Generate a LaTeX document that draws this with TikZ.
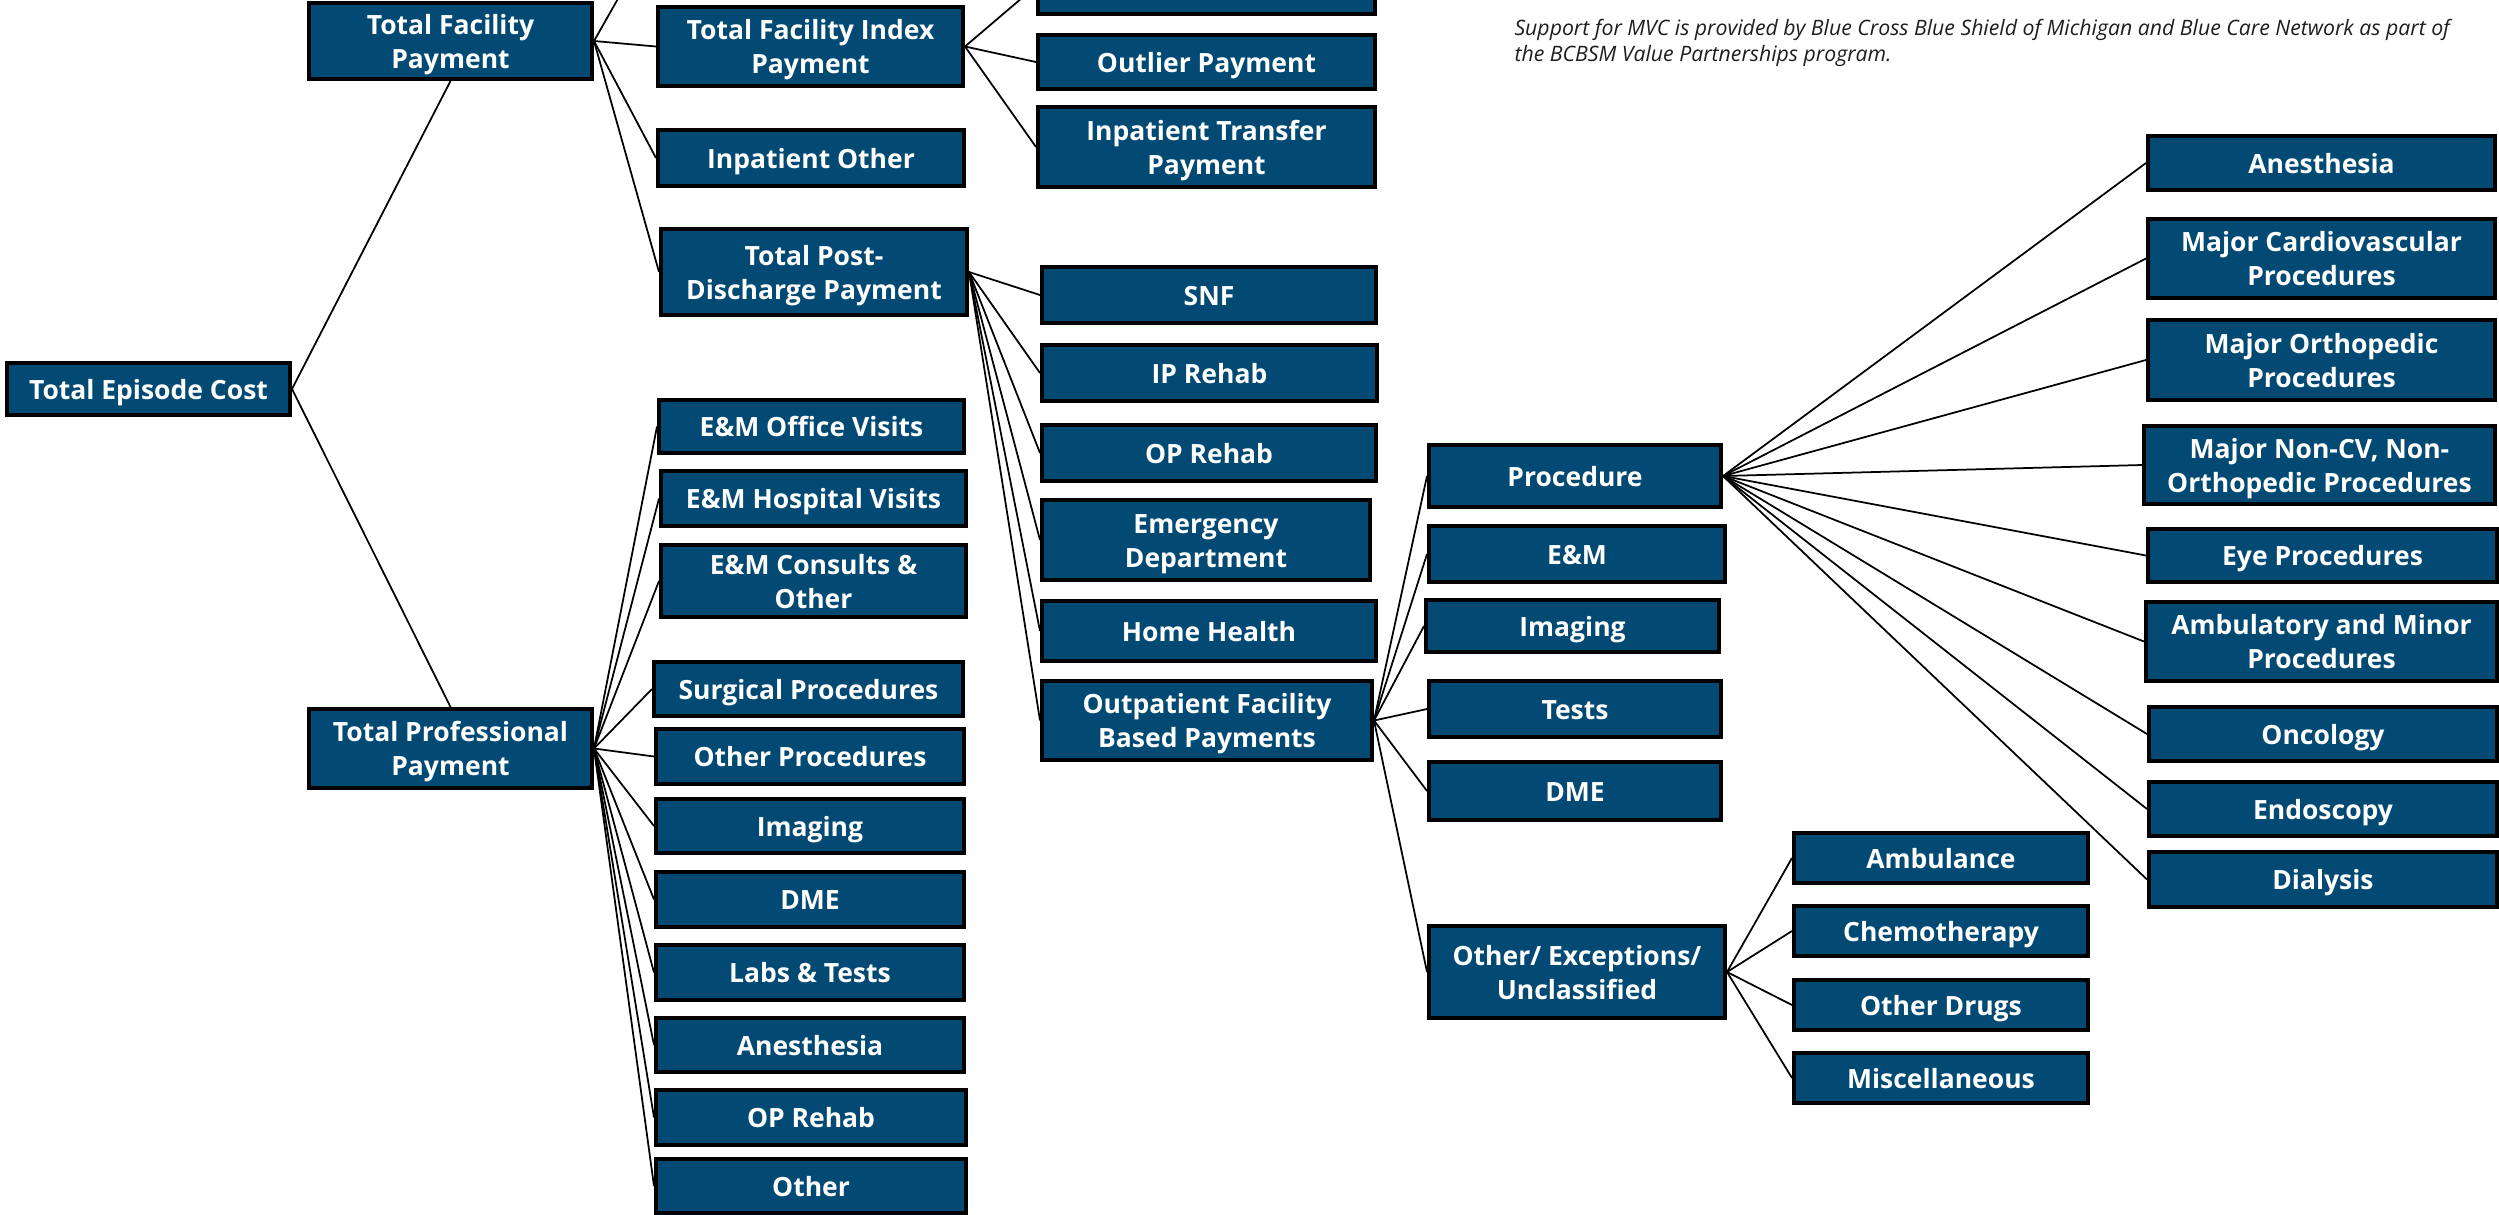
\documentclass[tikz,border=0pt]{standalone}
\usepackage{fontspec}
\setmainfont{Open Sans}
\definecolor{boxblue}{RGB}{2,74,115}
\definecolor{notegray}{RGB}{30,30,30}
\newcommand\sttop{\rule{0pt}{1.069em}}
\newcommand\stbot{\rule[-0.293em]{0pt}{0.293em}}
\tikzset{
  bxs/.style={draw=black, line width=1.6pt, fill=boxblue, text=white,
    font=\fontsize{10.6}{13.6}\selectfont\bfseries, align=center, inner sep=0pt, rectangle},
  conn/.style={draw=black, line width=0.7pt},
  notestyle/.style={font=\fontsize{8.5}{10.4}\selectfont\itshape, text=notegray, align=left, inner sep=0pt, anchor=north west}
}
\newcommand\nbox[6]{\node[bxs, minimum width={(#4-#2-4)*0.4pt}, minimum height={(#5-#3-4)*0.4pt}] (#1) at ({(#2+#4)/2},{(#3+#5)/2}) {\sttop #6\stbot};}
\begin{document}
\begin{tikzpicture}[x=0.4pt,y=-0.4pt]
\useasboundingbox (0,0) rectangle (2499,1214);
\clip (0,0) rectangle (2499,1214);
\fill[white] (0,0) rectangle (2499,1214);
% nodes
\nbox{tec}{5}{361}{292}{417}{Total Episode Cost}
\nbox{tfp}{307}{1}{594}{81}{Total Facility\\Payment}
\nbox{tpp}{307}{707}{594}{790}{Total Professional\\Payment}
\nbox{topbox}{1036}{-44}{1377}{16}{}
\nbox{tfip}{656}{5}{965}{88}{Total Facility Index\\Payment}
\nbox{outl}{1036}{33}{1377}{91}{Outlier Payment}
\nbox{ipt}{1036}{105}{1377}{189}{Inpatient Transfer\\Payment}
\nbox{ipo}{656}{128}{966}{188}{Inpatient Other}
\nbox{tpd}{659}{227}{969}{317}{Total Post-\\Discharge Payment}
\nbox{snf}{1040}{265}{1378}{325}{SNF}
\nbox{iprh}{1040}{343}{1379}{403}{IP Rehab}
\nbox{oprh}{1040}{423}{1378}{483}{OP Rehab}
\nbox{ed}{1040}{498}{1372}{582}{Emergency\\Department}
\nbox{hh}{1040}{599}{1378}{663}{Home Health}
\nbox{ofbp}{1040}{679}{1374}{762}{Outpatient Facility\\Based Payments}
\nbox{proc}{1427}{443}{1723}{509}{Procedure}
\nbox{em}{1427}{524}{1727}{584}{E\&M}
\nbox{imgb}{1424}{598}{1721}{654}{Imaging}
\nbox{tests}{1427}{679}{1723}{739}{Tests}
\nbox{dmeb}{1427}{760}{1723}{822}{DME}
\nbox{oeu}{1427}{924}{1727}{1020}{Other/ Exceptions/\\Unclassified}
\nbox{amb}{1792}{831}{2090}{885}{Ambulance}
\nbox{chemo}{1792}{904}{2090}{958}{Chemotherapy}
\nbox{odrug}{1792}{978}{2090}{1032}{Other Drugs}
\nbox{misc}{1792}{1051}{2090}{1105}{Miscellaneous}
\nbox{anesb}{2146}{134}{2497}{192}{Anesthesia}
\nbox{mcp}{2146}{217}{2497}{300}{Major Cardiovascular\\Procedures}
\nbox{mop}{2146}{318}{2497}{402}{Major Orthopedic\\Procedures}
\nbox{mnc}{2142}{424}{2497}{506}{Major Non-CV, Non-\\Orthopedic Procedures}
\nbox{eye}{2146}{527}{2499}{584}{Eye Procedures}
\nbox{amp}{2144}{600}{2499}{683}{Ambulatory and Minor\\Procedures}
\nbox{onc}{2147}{705}{2499}{763}{Oncology}
\nbox{endo}{2147}{780}{2499}{838}{Endoscopy}
\nbox{dial}{2147}{850}{2499}{909}{Dialysis}
\nbox{emo}{657}{398}{966}{455}{E\&M Office Visits}
\nbox{emh}{659}{469}{968}{528}{E\&M Hospital Visits}
\nbox{emc}{659}{543}{968}{619}{E\&M Consults \&\\Other}
\nbox{surg}{652}{660}{965}{718}{Surgical Procedures}
\nbox{othp}{654}{727}{966}{786}{Other Procedures}
\nbox{imga}{654}{797}{966}{855}{Imaging}
\nbox{dmea}{654}{870}{966}{929}{DME}
\nbox{labs}{654}{943}{966}{1002}{Labs \& Tests}
\nbox{anesa}{654}{1016}{966}{1074}{Anesthesia}
\nbox{oprha}{654}{1088}{968}{1147}{OP Rehab}
\nbox{oth}{654}{1157}{968}{1215}{Other}
\coordinate (upc) at (657,-70);
\node[notestyle] (note) at (1514,19) {Support for MVC is provided by Blue Cross Blue Shield of Michigan and Blue Care Network as part of\\the BCBSM Value Partnerships program.};
% connectors
\draw[conn] (tec.east) -- (tfp.south);
\draw[conn] (tec.east) -- (tpp.north);
\draw[conn] (tfp.east) -- (upc);
\foreach \c in {tfip,ipo,tpd} \draw[conn] (tfp.east) -- (\c.west);
\foreach \c in {topbox,outl,ipt} \draw[conn] (tfip.east) -- (\c.west);
\foreach \c in {snf,iprh,oprh,ed,hh,ofbp} \draw[conn] (tpd.east) -- (\c.west);
\foreach \c in {proc,em,imgb,tests,dmeb,oeu} \draw[conn] (ofbp.east) -- (\c.west);
\foreach \c in {anesb,mcp,mop,mnc,eye,amp,onc,endo,dial} \draw[conn] (proc.east) -- (\c.west);
\foreach \c in {amb,chemo,odrug,misc} \draw[conn] (oeu.east) -- (\c.west);
\foreach \c in {emo,emh,emc,surg,othp,imga,dmea,labs,anesa,oprha,oth} \draw[conn] (tpp.east) -- (\c.west);
\end{tikzpicture}
\end{document}
